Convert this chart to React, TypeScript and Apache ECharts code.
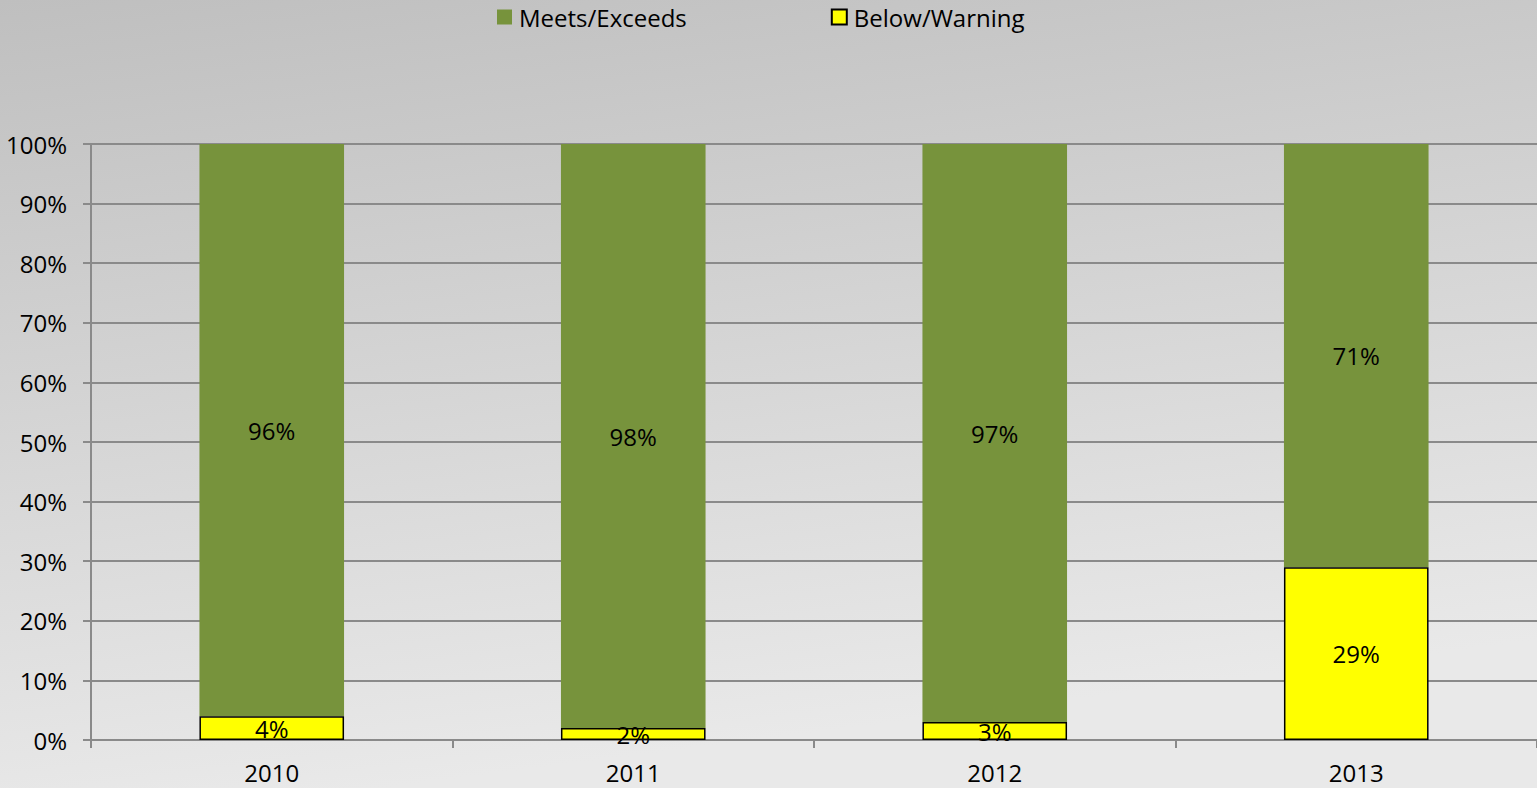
import React, { useEffect, useRef } from "react";
import * as echarts from "echarts";

const categories = ["2010", "2011", "2012", "2013"];
const meetsExceeds = [96, 98, 97, 71];
const belowWarning = [4, 2, 3, 29];
const yTicks = [0, 10, 20, 30, 40, 50, 60, 70, 80, 90, 100];

const FONT = "'Open Sans', 'Liberation Sans', Arial, sans-serif";
const FS = 24;

export default function App() {
  const ref = useRef<HTMLDivElement>(null);
  useEffect(() => {
    document.body.style.margin = "0";
    const chart = echarts.init(ref.current!, null, { renderer: "svg" });
    chart.setOption({
      animation: false,
      backgroundColor: {
        type: "linear",
        x: 0,
        y: 0,
        x2: 0.25,
        y2: 1,
        colorStops: [
          { offset: 0, color: "#bfbfbf" },
          { offset: 1, color: "#e9e9e9" },
        ],
      },
      textStyle: { fontFamily: FONT },
      legend: {
        top: 5,
        left: 497,
        padding: 0,
        itemWidth: 15,
        itemHeight: 15,
        itemGap: 144,
        icon: "rect",
        textStyle: {
          fontSize: FS,
          lineHeight: 24,
          color: "#000",
          fontFamily: FONT,
          padding: [0, 0, 0, 2],
        },
        data: ["Meets/Exceeds", "Below/Warning"],
      },
      grid: { left: 91, right: 0, top: 144, bottom: 48, containLabel: false },
      xAxis: {
        type: "category",
        data: categories,
        axisLine: { show: true, lineStyle: { color: "#8a8a8a", width: 2 } },
        axisTick: { show: true, length: 8, lineStyle: { color: "#8a8a8a", width: 2 } },
        axisLabel: { fontSize: FS, color: "#000", margin: 20, fontFamily: FONT },
      },
      yAxis: {
        type: "value",
        min: 0,
        max: 100,
        interval: 10,
        axisLine: { show: true, lineStyle: { color: "#8a8a8a", width: 2 } },
        axisTick: { show: true, length: 8, lineStyle: { color: "#8a8a8a", width: 2 } },
        axisLabel: {
          fontSize: FS,
          color: "#000",
          margin: 24,
          fontFamily: FONT,
          formatter: (v: number) => (yTicks.includes(v) ? v + "%" : ""),
        },
        splitLine: { show: true, lineStyle: { color: "#8a8a8a", width: 2 } },
      },
      series: [
        {
          name: "Below/Warning",
          type: "bar",
          stack: "total",
          data: belowWarning,
          barWidth: "40%",
          itemStyle: { color: "#ffff00", borderColor: "#000", borderWidth: 1.5 },
          label: {
            show: true,
            position: "inside",
            formatter: "{c}%",
            fontSize: FS,
            color: "#000",
            fontFamily: FONT,
          },
          z: 3,
        },
        {
          name: "Meets/Exceeds",
          type: "bar",
          stack: "total",
          data: meetsExceeds,
          barWidth: "40%",
          itemStyle: { color: "#77933c" },
          label: {
            show: true,
            position: "inside",
            formatter: "{c}%",
            fontSize: FS,
            color: "#000",
            fontFamily: FONT,
          },
          z: 2,
        },
      ],
    });
    return () => chart.dispose();
  }, []);
  return (
    <div
      ref={ref}
      style={{ position: "fixed", left: 0, top: 0, width: 1537, height: 788 }}
    />
  );
}
